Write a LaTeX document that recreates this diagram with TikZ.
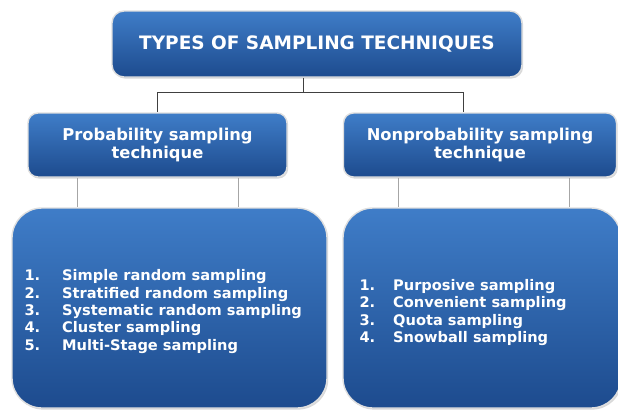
\documentclass[tikz,border=0pt]{standalone}
\usepackage{fontspec}
\setmainfont{DejaVu Sans}
\usetikzlibrary{positioning,shadows}

\definecolor{boxtop}{HTML}{3F7DC8}
\definecolor{boxbot}{HTML}{1D4B8E}

\tikzset{
  bluebox/.style={rounded corners=#1, draw=gray!25, line width=1.4pt,
    top color=boxtop, bottom color=boxbot, text=white, align=center,
    drop shadow={opacity=0.3, shadow xshift=1.2pt, shadow yshift=-1.6pt}},
  bluebox/.default=10pt,
  link/.style={draw=black!75, line width=0.6pt},
  sublink/.style={draw=black!35, line width=0.6pt},
  listtext/.style={text=white, inner sep=0pt, anchor=west,
    font=\fontsize{14.6}{17.4}\selectfont\bfseries}
}

\begin{document}
\begin{tikzpicture}[x=1pt, y=1pt]
  \useasboundingbox (0,0) rectangle (618,-410);

  % main heading
  \node[bluebox=12pt, minimum width=410pt, minimum height=66pt,
        font=\fontsize{18.5}{21}\selectfont\bfseries] (title) at (317,-44)
        {TYPES OF SAMPLING TECHNIQUES};

  % the two families
  \node[bluebox, minimum width=259pt, minimum height=64pt,
        font=\fontsize{16.3}{18}\selectfont\bfseries] (prob) at (157.5,-145)
        {\raisebox{-2pt}{\parbox{250pt}{\centering Probability sampling\\technique}}};
  \node[bluebox, minimum width=273pt, minimum height=64pt,
        font=\fontsize{16.3}{18}\selectfont\bfseries] (nonprob) at (480,-145)
        {\raisebox{-2pt}{\parbox{264pt}{\centering Nonprobability sampling\\technique}}};

  % boxes holding the lists
  \node[bluebox=30pt, minimum width=315pt, minimum height=200pt] (problist) at (169.5,-308) {};
  \node[bluebox=30pt, minimum width=278pt, minimum height=200pt] (nonproblist) at (482,-308) {};

  \node[listtext, right=13pt of problist.west, yshift=-4pt] (probitems) {%
    \begin{tabular}{@{}l@{\hspace{22pt}}l@{}}
      1. & Simple random sampling\\
      2. & Stratified random sampling\\
      3. & Systematic random sampling\\
      4. & Cluster sampling\\
      5. & Multi-Stage sampling
    \end{tabular}};
  \node[listtext, right=17pt of nonproblist.west, yshift=-5pt] (nonprobitems) {%
    \begin{tabular}{@{}l@{\hspace{18pt}}l@{}}
      1. & Purposive sampling\\
      2. & Convenient sampling\\
      3. & Quota sampling\\
      4. & Snowball sampling
    \end{tabular}};

  % connectors
  \coordinate (fork) at ([yshift=-15pt,xshift=-14pt]title.south);
  \draw[link] ([xshift=-14pt]title.south) -- (fork) -| (prob.north);
  \draw[link] (fork) -| ([xshift=-17pt]nonprob.north);

  \draw[sublink] ([xshift=50pt]prob.south west) -- ([xshift=50pt]prob.south west |- problist.north);
  \draw[sublink] ([xshift=-49pt]prob.south east) -- ([xshift=-49pt]prob.south east |- problist.north);
  \draw[sublink] ([xshift=55pt]nonprob.south west) -- ([xshift=55pt]nonprob.south west |- nonproblist.north);
  \draw[sublink] ([xshift=-48pt]nonprob.south east) -- ([xshift=-48pt]nonprob.south east |- nonproblist.north);
\end{tikzpicture}
\end{document}
